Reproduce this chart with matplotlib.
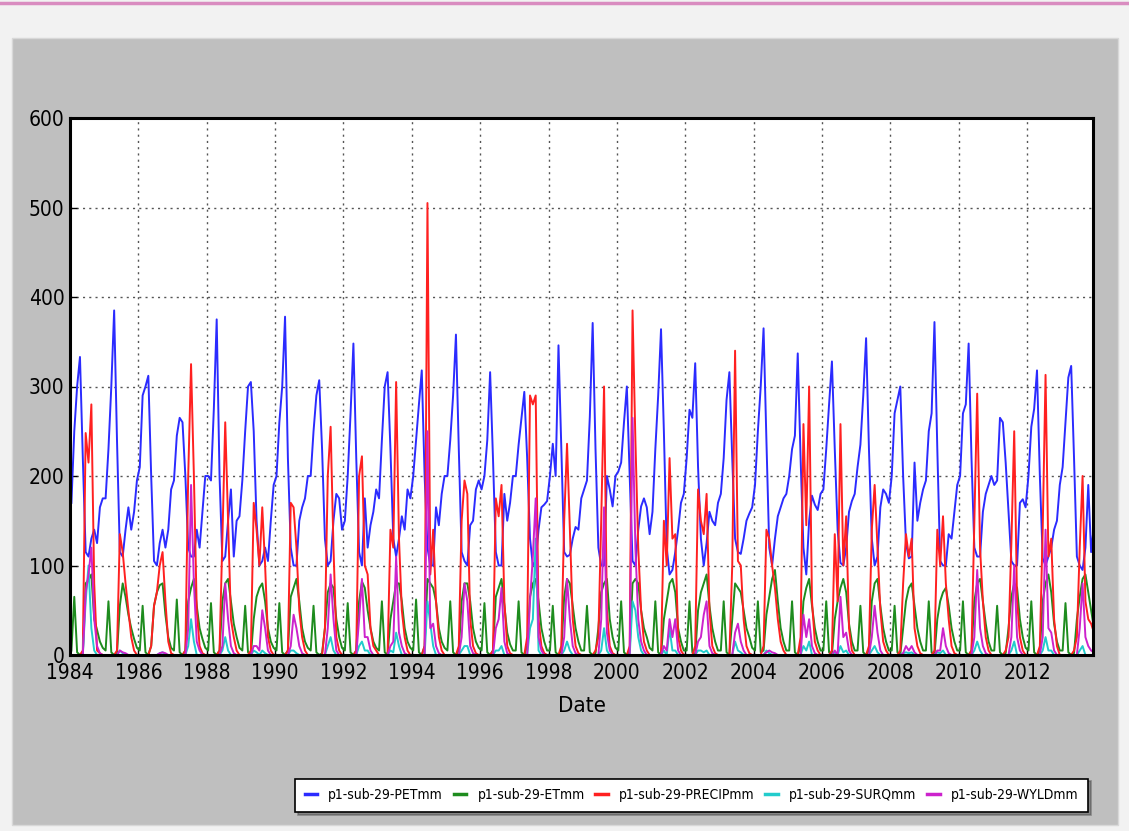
import matplotlib
matplotlib.use("Agg")
import matplotlib.pyplot as plt
import numpy as np
from matplotlib.patches import Rectangle
from matplotlib.lines import Line2D

START_YEAR = 1984
YEARS = list(range(1984, 2014))
SERIES_NAMES = ["p1-sub-29-PETmm", "p1-sub-29-ETmm", "p1-sub-29-PRECIPmm",
                "p1-sub-29-SURQmm", "p1-sub-29-WYLDmm"]
XTICKS = list(range(1984, 2013, 2))
YTICKS = [0, 100, 200, 300, 400, 500, 600]

# monthly values, one row per year (Jan..Dec)
PET = [
    [170, 250, 300, 333, 220, 115, 110, 130, 140, 125, 165, 175],
    [175, 230, 300, 385, 240, 115, 110, 140, 165, 140, 160, 195],
    [210, 290, 300, 312, 200, 105, 100, 125, 140, 120, 140, 185],
    [195, 245, 265, 260, 200, 120, 110, 110, 140, 120, 160, 200],
    [200, 195, 275, 375, 200, 105, 110, 150, 185, 110, 150, 155],
    [195, 250, 300, 305, 250, 150, 100, 105, 120, 105, 150, 190],
    [200, 260, 300, 378, 220, 120, 100, 100, 150, 165, 175, 200],
    [200, 250, 290, 307, 230, 130, 100, 105, 150, 180, 175, 140],
    [150, 200, 270, 348, 220, 115, 100, 175, 120, 145, 160, 185],
    [175, 240, 300, 316, 230, 130, 110, 130, 155, 140, 185, 175],
    [200, 240, 280, 318, 200, 120, 100, 100, 165, 145, 180, 200],
    [200, 240, 290, 358, 230, 115, 105, 100, 145, 150, 185, 195],
    [185, 200, 240, 316, 220, 115, 100, 100, 180, 150, 170, 200],
    [200, 235, 265, 294, 220, 130, 100, 105, 140, 165, 168, 172],
    [200, 236, 200, 346, 230, 115, 110, 112, 130, 143, 140, 175],
    [185, 195, 266, 371, 230, 120, 100, 100, 200, 185, 166, 200],
    [205, 215, 260, 300, 200, 105, 100, 140, 166, 175, 165, 135],
    [160, 230, 290, 364, 250, 120, 90, 95, 115, 140, 170, 180],
    [220, 274, 265, 326, 210, 130, 100, 125, 160, 150, 145, 170],
    [180, 220, 285, 316, 220, 130, 115, 113, 130, 150, 158, 165],
    [190, 250, 300, 365, 240, 120, 100, 130, 155, 165, 175, 180],
    [200, 230, 245, 337, 220, 120, 90, 150, 178, 168, 162, 180],
    [185, 230, 280, 328, 230, 140, 103, 100, 120, 160, 172, 180],
    [210, 235, 290, 354, 230, 130, 100, 110, 165, 185, 180, 170],
    [200, 270, 285, 300, 200, 125, 108, 110, 215, 150, 170, 185],
    [195, 250, 270, 372, 230, 105, 100, 100, 135, 130, 160, 190],
    [200, 270, 280, 348, 220, 120, 110, 110, 160, 180, 190, 200],
    [190, 195, 265, 260, 215, 160, 105, 100, 100, 170, 174, 165],
    [200, 255, 275, 318, 200, 108, 100, 110, 120, 140, 150, 190],
    [210, 260, 310, 323, 220, 110, 100, 95, 120, 190, 115, 145],
]

ET = [
    [5, 65, 3, 0, 2, 80, 84, 90, 40, 28, 15, 8],
    [5, 60, 3, 0, 2, 55, 80, 65, 45, 30, 18, 8],
    [5, 55, 3, 0, 10, 55, 70, 78, 80, 45, 20, 8],
    [5, 62, 3, 0, 5, 60, 75, 85, 55, 30, 18, 8],
    [5, 58, 3, 0, 5, 60, 80, 85, 60, 35, 20, 8],
    [5, 55, 3, 0, 40, 65, 75, 80, 60, 30, 15, 8],
    [5, 58, 3, 0, 5, 65, 75, 85, 60, 30, 15, 8],
    [5, 55, 3, 0, 2, 30, 70, 80, 75, 40, 20, 8],
    [5, 58, 3, 0, 5, 60, 82, 75, 50, 30, 15, 8],
    [5, 60, 3, 0, 40, 60, 80, 80, 60, 30, 15, 8],
    [5, 62, 3, 0, 10, 85, 80, 75, 60, 30, 15, 8],
    [5, 60, 3, 0, 5, 60, 80, 80, 60, 30, 15, 8],
    [5, 58, 3, 0, 5, 65, 75, 85, 55, 25, 12, 5],
    [5, 60, 3, 0, 10, 65, 80, 85, 60, 30, 15, 5],
    [5, 55, 3, 0, 5, 65, 85, 80, 55, 30, 15, 5],
    [5, 55, 3, 0, 2, 30, 70, 80, 85, 40, 20, 8],
    [5, 60, 3, 0, 5, 80, 85, 80, 50, 30, 20, 8],
    [5, 60, 3, 0, 40, 60, 80, 85, 70, 30, 15, 5],
    [5, 60, 3, 0, 50, 70, 80, 90, 55, 30, 15, 5],
    [5, 60, 3, 0, 40, 80, 75, 70, 50, 30, 20, 8],
    [5, 60, 3, 5, 45, 65, 85, 95, 60, 30, 15, 5],
    [5, 60, 3, 0, 10, 60, 75, 85, 55, 30, 15, 5],
    [5, 60, 3, 0, 40, 60, 75, 85, 70, 35, 15, 5],
    [5, 55, 3, 0, 5, 60, 80, 85, 55, 30, 15, 5],
    [5, 55, 3, 0, 30, 60, 75, 80, 55, 30, 15, 5],
    [5, 60, 3, 0, 40, 60, 70, 75, 55, 30, 15, 5],
    [5, 60, 3, 0, 5, 60, 80, 85, 60, 35, 15, 5],
    [5, 55, 3, 0, 2, 30, 65, 80, 75, 40, 20, 8],
    [5, 60, 3, 0, 5, 60, 80, 90, 70, 35, 15, 5],
    [5, 58, 3, 0, 2, 40, 65, 85, 90, 70, 50, 30],
]

PRECIP = [
    [0, 0, 0, 0, 5, 248, 215, 280, 80, 5, 2, 0],
    [0, 0, 0, 0, 5, 135, 115, 80, 50, 20, 5, 0],
    [0, 0, 0, 0, 10, 55, 70, 100, 115, 60, 15, 2],
    [0, 0, 0, 0, 5, 200, 325, 200, 50, 10, 2, 0],
    [0, 0, 0, 0, 5, 130, 260, 150, 40, 20, 5, 0],
    [0, 0, 0, 5, 170, 140, 100, 165, 100, 20, 5, 0],
    [0, 0, 0, 0, 5, 170, 165, 120, 50, 20, 5, 0],
    [0, 0, 0, 0, 0, 30, 200, 255, 120, 20, 5, 0],
    [0, 0, 0, 0, 5, 200, 222, 100, 90, 30, 10, 5],
    [0, 0, 0, 0, 140, 120, 305, 130, 50, 20, 5, 0],
    [0, 0, 0, 0, 10, 505, 90, 140, 60, 20, 5, 0],
    [0, 0, 0, 0, 10, 150, 195, 180, 40, 10, 2, 0],
    [0, 0, 0, 0, 5, 175, 155, 190, 60, 10, 2, 0],
    [0, 0, 0, 0, 20, 290, 280, 290, 40, 10, 2, 0],
    [0, 0, 0, 0, 10, 150, 236, 140, 40, 10, 2, 0],
    [0, 0, 0, 0, 5, 20, 150, 300, 50, 10, 2, 0],
    [0, 0, 0, 0, 10, 385, 240, 120, 50, 15, 5, 0],
    [0, 0, 0, 0, 150, 100, 220, 130, 135, 20, 5, 0],
    [0, 0, 0, 10, 185, 150, 135, 180, 50, 10, 2, 0],
    [0, 0, 0, 0, 100, 340, 105, 100, 40, 10, 2, 0],
    [0, 0, 0, 10, 140, 130, 100, 75, 40, 15, 5, 0],
    [0, 0, 0, 0, 20, 258, 145, 300, 60, 15, 5, 0],
    [0, 0, 0, 5, 135, 60, 258, 100, 155, 30, 5, 0],
    [0, 0, 0, 0, 10, 140, 190, 120, 50, 15, 5, 0],
    [0, 0, 0, 5, 80, 135, 110, 130, 30, 10, 2, 0],
    [0, 0, 0, 5, 140, 100, 155, 80, 40, 10, 2, 0],
    [0, 0, 0, 0, 5, 150, 292, 120, 60, 20, 5, 0],
    [0, 0, 0, 0, 5, 20, 125, 250, 60, 20, 5, 0],
    [0, 0, 0, 0, 10, 140, 313, 110, 130, 40, 10, 0],
    [0, 0, 0, 0, 5, 20, 120, 200, 60, 40, 35, 25],
]

SURQ = [
    [0, 0, 0, 0, 0, 60, 100, 30, 5, 0, 0, 0],
    [0, 0, 0, 0, 0, 5, 2, 0, 0, 0, 0, 0],
    [0, 0, 0, 0, 0, 0, 0, 2, 3, 0, 0, 0],
    [0, 0, 0, 0, 0, 10, 40, 15, 0, 0, 0, 0],
    [0, 0, 0, 0, 0, 5, 20, 5, 0, 0, 0, 0],
    [0, 0, 0, 0, 5, 3, 0, 5, 2, 0, 0, 0],
    [0, 0, 0, 0, 0, 5, 5, 2, 0, 0, 0, 0],
    [0, 0, 0, 0, 0, 0, 10, 20, 5, 0, 0, 0],
    [0, 0, 0, 0, 0, 10, 15, 5, 5, 0, 0, 0],
    [0, 0, 0, 0, 5, 3, 25, 10, 0, 0, 0, 0],
    [0, 0, 0, 0, 0, 60, 35, 10, 0, 0, 0, 0],
    [0, 0, 0, 0, 0, 5, 10, 10, 0, 0, 0, 0],
    [0, 0, 0, 0, 0, 5, 5, 10, 0, 0, 0, 0],
    [0, 0, 0, 0, 0, 30, 40, 130, 5, 0, 0, 0],
    [0, 0, 0, 0, 0, 5, 15, 5, 0, 0, 0, 0],
    [0, 0, 0, 0, 0, 0, 5, 30, 5, 0, 0, 0],
    [0, 0, 0, 0, 0, 60, 50, 20, 5, 0, 0, 0],
    [0, 0, 0, 0, 5, 0, 30, 5, 5, 0, 0, 0],
    [0, 0, 0, 0, 5, 5, 3, 5, 0, 0, 0, 0],
    [0, 0, 0, 0, 0, 15, 5, 3, 0, 0, 0, 0],
    [0, 0, 0, 0, 5, 2, 0, 0, 0, 0, 0, 0],
    [0, 0, 0, 0, 0, 10, 5, 15, 0, 0, 0, 0],
    [0, 0, 0, 0, 3, 0, 10, 3, 5, 0, 0, 0],
    [0, 0, 0, 0, 0, 5, 10, 3, 0, 0, 0, 0],
    [0, 0, 0, 0, 2, 3, 2, 3, 0, 0, 0, 0],
    [0, 0, 0, 0, 3, 2, 5, 0, 0, 0, 0, 0],
    [0, 0, 0, 0, 0, 5, 15, 5, 0, 0, 0, 0],
    [0, 0, 0, 0, 0, 0, 5, 15, 0, 0, 0, 0],
    [0, 0, 0, 0, 0, 5, 20, 5, 5, 0, 0, 0],
    [0, 0, 0, 0, 0, 0, 5, 10, 0, 0, 0, 0],
]

WYLD = [
    [0, 0, 0, 0, 0, 70, 90, 120, 40, 10, 2, 0],
    [0, 0, 0, 0, 0, 5, 3, 2, 0, 0, 0, 0],
    [0, 0, 0, 0, 0, 0, 0, 2, 3, 2, 0, 0],
    [0, 0, 0, 0, 0, 30, 190, 80, 15, 5, 0, 0],
    [0, 0, 0, 0, 0, 10, 80, 40, 10, 2, 0, 0],
    [0, 0, 0, 0, 10, 10, 5, 50, 30, 5, 0, 0],
    [0, 0, 0, 0, 0, 10, 45, 30, 10, 2, 0, 0],
    [0, 0, 0, 0, 0, 0, 30, 90, 40, 5, 0, 0],
    [0, 0, 0, 0, 0, 40, 85, 20, 20, 5, 0, 0],
    [0, 0, 0, 0, 10, 15, 110, 25, 10, 2, 0, 0],
    [0, 0, 0, 0, 0, 250, 30, 35, 10, 2, 0, 0],
    [0, 0, 0, 0, 0, 20, 80, 60, 10, 2, 0, 0],
    [0, 0, 0, 0, 0, 30, 40, 75, 15, 2, 0, 0],
    [0, 0, 0, 0, 0, 60, 110, 175, 20, 5, 0, 0],
    [0, 0, 0, 0, 0, 20, 85, 40, 10, 2, 0, 0],
    [0, 0, 0, 0, 0, 0, 40, 165, 25, 5, 0, 0],
    [0, 0, 0, 0, 0, 265, 120, 40, 15, 5, 0, 0],
    [0, 0, 0, 0, 10, 5, 40, 20, 40, 5, 0, 0],
    [0, 0, 0, 0, 15, 20, 45, 60, 10, 2, 0, 0],
    [0, 0, 0, 0, 0, 25, 35, 15, 5, 0, 0, 0],
    [0, 0, 0, 0, 3, 5, 3, 2, 0, 0, 0, 0],
    [0, 0, 0, 0, 0, 45, 20, 40, 10, 2, 0, 0],
    [0, 0, 0, 0, 5, 0, 65, 20, 25, 5, 0, 0],
    [0, 0, 0, 0, 0, 20, 55, 25, 5, 0, 0, 0],
    [0, 0, 0, 0, 2, 10, 5, 10, 3, 0, 0, 0],
    [0, 0, 0, 0, 5, 5, 30, 10, 2, 0, 0, 0],
    [0, 0, 0, 0, 0, 20, 95, 30, 10, 2, 0, 0],
    [0, 0, 0, 0, 0, 0, 20, 100, 20, 5, 0, 0],
    [0, 0, 0, 0, 0, 20, 140, 30, 25, 5, 0, 0],
    [0, 0, 0, 0, 0, 0, 30, 80, 20, 10, 5, 3],
]

COLORS = ["#2b2bff", "#1e8c1e", "#ff2020", "#22cccc", "#cc22cc"]

plt.rcParams["font.family"] = ["DejaVu Sans"]
plt.rcParams["font.stretch"] = "condensed"

n_months = len(YEARS) * 12
x = START_YEAR + (np.arange(n_months) + 0.5) / 12.0

fig = plt.figure(figsize=(11.29, 8.31), dpi=100)
fig.patch.set_facecolor("#f2f2f2")
# grey panel + pink rule at the top
fig.patches.append(Rectangle((12 / 1129, 6 / 831), 1106 / 1129, 787 / 831,
                             transform=fig.transFigure, facecolor="#bfbfbf",
                             edgecolor="#d8d8d8", zorder=-10))
fig.lines.append(Line2D([0, 1], [0.996, 0.996], transform=fig.transFigure,
                        color="#d98cc0", lw=2.5, zorder=-10))

ax = fig.add_axes([70 / 1129, 1 - 655 / 831, 1023 / 1129, 537 / 831])
ax.set_facecolor("white")

for name, data, col in zip(SERIES_NAMES, [PET, ET, PRECIP, SURQ, WYLD], COLORS):
    y = np.array(data, dtype=float).ravel()
    ax.plot(x, y, color=col, lw=1.4, label=name)

ax.set_xlim(1984, 2013.93)
ax.set_ylim(0, 600)
ax.set_xticks(XTICKS)
ax.set_xticklabels([str(t) for t in XTICKS])
ax.set_yticks(YTICKS)
ax.tick_params(labelsize=15, direction="in", length=5, width=1, pad=4)
ax.tick_params(axis="x", pad=6)
ax.grid(True, color="#555555", linestyle=(0, (1.5, 3)), linewidth=1)
for sp in ax.spines.values():
    sp.set_linewidth(2.2)
ax.set_xlabel("Date", fontsize=16, labelpad=9)

leg = fig.legend(loc="lower left", bbox_to_anchor=(295 / 1129, 19 / 831, 793 / 1129, 34 / 831),
                 mode="expand", ncol=5, fontsize=10, frameon=True, fancybox=False,
                 shadow=True, handlelength=0.9, handletextpad=0.8,
                 columnspacing=1.4, borderaxespad=0, borderpad=0.7)
leg.get_frame().set_edgecolor("black")
leg.get_frame().set_linewidth(1.2)
for line in leg.get_lines():
    line.set_linewidth(2.5)

fig.savefig("out.png", dpi=100, facecolor=fig.get_facecolor())
